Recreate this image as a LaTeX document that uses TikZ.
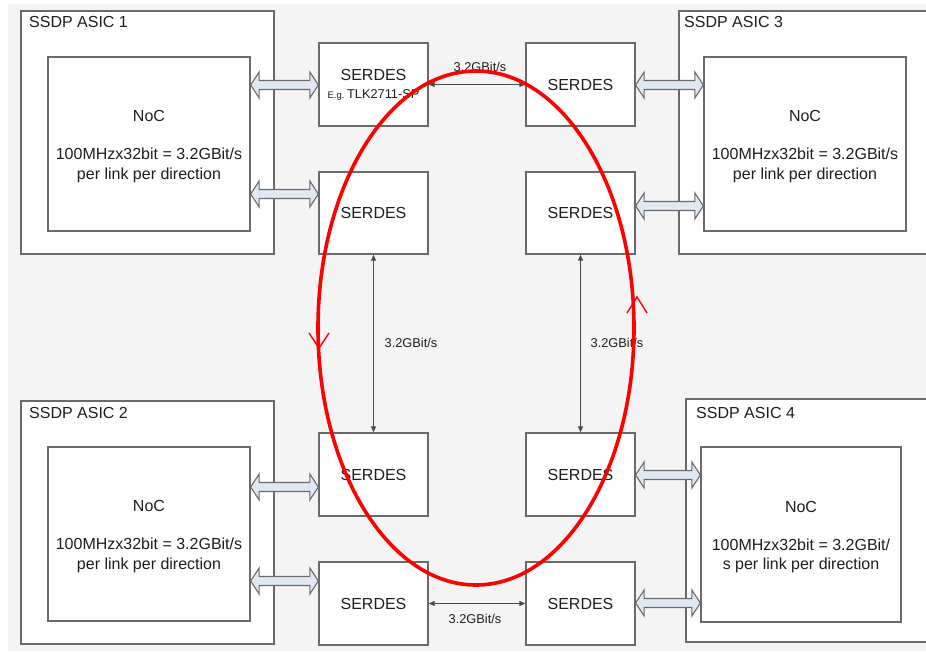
\documentclass[tikz,border=0pt]{standalone}
\usepackage{fontspec}
\setmainfont{Liberation Sans}
\usetikzlibrary{calc,arrows.meta}
\definecolor{bggray}{HTML}{F4F4F4}
\definecolor{edgegray}{HTML}{6A6A6A}
\definecolor{arrowfill}{HTML}{DFE8F3}
\definecolor{txt}{HTML}{1E1E1E}
\definecolor{linkgray}{HTML}{4A4A4A}
\tikzset{
  box/.style={draw=edgegray, line width=1.3pt, fill=white, inner sep=0pt, text=txt},
  asicbox/.style={box},
  nocbox/.style={box, align=center, font=\fontsize{16}{19.3}\selectfont},
  serdesbox/.style={box, minimum width=109pt, align=center, font=\fontsize{16}{18}\selectfont},
  asiclabel/.style={anchor=base west, inner sep=0pt, text=txt, font=\fontsize{16}{19}\selectfont},
  ratelabel/.style={inner sep=0pt, text=txt, font=\fontsize{12.8}{14}\selectfont},
  blockarrow/.style={draw=edgegray, line width=1.1pt, fill=arrowfill, line join=miter},
  link/.style={draw=linkgray, line width=1pt, {Triangle[length=6pt,width=5pt]}-{Triangle[length=6pt,width=5pt]}},
  ring/.style={draw=red, line width=3.6pt},
  chevron/.style={draw=red, line width=1.4pt}
}
\newcommand\blockarr[2]{%
  \filldraw[blockarrow] let \p1=#1, \p2=#2 in
    (\x1,\y1) -- ({\x1+8.5pt},{\y1+13pt}) -- ({\x1+8.5pt},{\y1+4.5pt})
    -- ({\x2-8.5pt},{\y1+4.5pt}) -- ({\x2-8.5pt},{\y1+13pt}) -- (\x2,\y1)
    -- ({\x2-8.5pt},{\y1-13pt}) -- ({\x2-8.5pt},{\y1-4.5pt})
    -- ({\x1+8.5pt},{\y1-4.5pt}) -- ({\x1+8.5pt},{\y1-13pt}) -- cycle;}
\begin{document}
\begin{tikzpicture}[x=1pt,y=-1pt]
\path[use as bounding box] (0,0) rectangle (926,651);
\fill[bggray] (8,4) rectangle (926,651);

% ASIC outer boxes
\node[asicbox, minimum width=253pt, minimum height=243pt] (asic1) at (147.5,132.5) {};
\node[asicbox, minimum width=261pt, minimum height=243pt] (asic3) at (809.5,132.5) {};
\node[asicbox, minimum width=253pt, minimum height=243pt] (asic2) at (147.5,522.5) {};
\node[asicbox, minimum width=254pt, minimum height=243pt] (asic4) at (813,520.5) {};

\node[asiclabel] (l1) at (29,27) {SSDP ASIC 1};
\node[asiclabel] (l3) at (684,27) {SSDP ASIC 3};
\node[asiclabel] (l2) at (29,418) {SSDP ASIC 2};
\node[asiclabel] (l4) at (696,418) {SSDP ASIC 4};

% NoC boxes
\node[nocbox, minimum width=202pt, minimum height=174pt] (noc1) at (149,144)
  {\\[-3pt]NoC\\[18.5pt]100MHzx32bit = 3.2GBit/s\\per link per direction};
\node[nocbox, minimum width=202pt, minimum height=174pt] (noc3) at (805,144)
  {\\[-3pt]NoC\\[18.5pt]100MHzx32bit = 3.2GBit/s\\per link per direction};
\node[nocbox, minimum width=202pt, minimum height=174pt] (noc2) at (149,534)
  {\\[-3pt]NoC\\[18.5pt]100MHzx32bit = 3.2GBit/s\\per link per direction};
\node[nocbox, minimum width=200pt, minimum height=175pt] (noc4) at (801,534.5)
  {\\[-3pt]NoC\\[18.5pt]100MHzx32bit = 3.2GBit/\\s per link per direction};

% SERDES boxes
\node[serdesbox, minimum height=83pt] (s1) at (373.5,84.5)
  {SERDES\\{\fontsize{9.5}{10}\selectfont E.g.}\,{\fontsize{12.8}{14}\selectfont TLK2711-SP}};
\node[serdesbox, minimum height=82pt] (s1b) at (373.5,213) {SERDES};
\node[serdesbox, minimum height=83pt] (s3) at (580.5,84.5) {SERDES};
\node[serdesbox, minimum height=82pt] (s3b) at (580.5,213) {SERDES};
\node[serdesbox, minimum height=83pt] (s2a) at (373.5,474.5) {SERDES};
\node[serdesbox, minimum height=83pt] (s2b) at (373.5,603.5) {SERDES};
\node[serdesbox, minimum height=83pt] (s4a) at (580.5,474.5) {SERDES};
\node[serdesbox, minimum height=83pt] (s4b) at (580.5,603.5) {SERDES};

% block arrows between NoC and SERDES
\coordinate (ya1) at (0,85);
\coordinate (yb1) at (0,194);
\coordinate (ya3) at (0,85);
\coordinate (yb3) at (0,206);
\coordinate (ya2) at (0,487);
\coordinate (yb2) at (0,581);
\coordinate (ya4) at (0,475);
\coordinate (yb4) at (0,603);
\blockarr{(noc1.east |- ya1)}{(s1.west |- ya1)}
\blockarr{(noc1.east |- yb1)}{(s1b.west |- yb1)}
\blockarr{(s3.east |- ya3)}{(noc3.west |- ya3)}
\blockarr{(s3b.east |- yb3)}{(noc3.west |- yb3)}
\blockarr{(noc2.east |- ya2)}{(s2a.west |- ya2)}
\blockarr{(noc2.east |- yb2)}{(s2b.west |- yb2)}
\blockarr{(s4a.east |- ya4)}{(noc4.west |- ya4)}
\blockarr{(s4b.east |- yb4)}{(noc4.west |- yb4)}

% SERDES links
\draw[link] (s1.east) -- (s3.west);
\draw[link] (s2b.east) -- (s4b.west);
\draw[link] (s1b.south) -- (s2a.north);
\draw[link] (s3b.south) -- (s4a.north);

\node[ratelabel] (r1) at (480,67) {3.2GBit/s};
\node[ratelabel] (r2) at (475,619) {3.2GBit/s};
\node[ratelabel] (r3) at (411,343) {3.2GBit/s};
\node[ratelabel] (r4) at (617,343) {3.2GBit/s};

% red ring with direction marks
\draw[ring] (476,328) ellipse [x radius=158pt, y radius=257pt];
\draw[chevron] (309,333) -- (319,348) -- (329,333);
\draw[chevron] (627,313) -- (637,297) -- (647,313);
\end{tikzpicture}
\end{document}
